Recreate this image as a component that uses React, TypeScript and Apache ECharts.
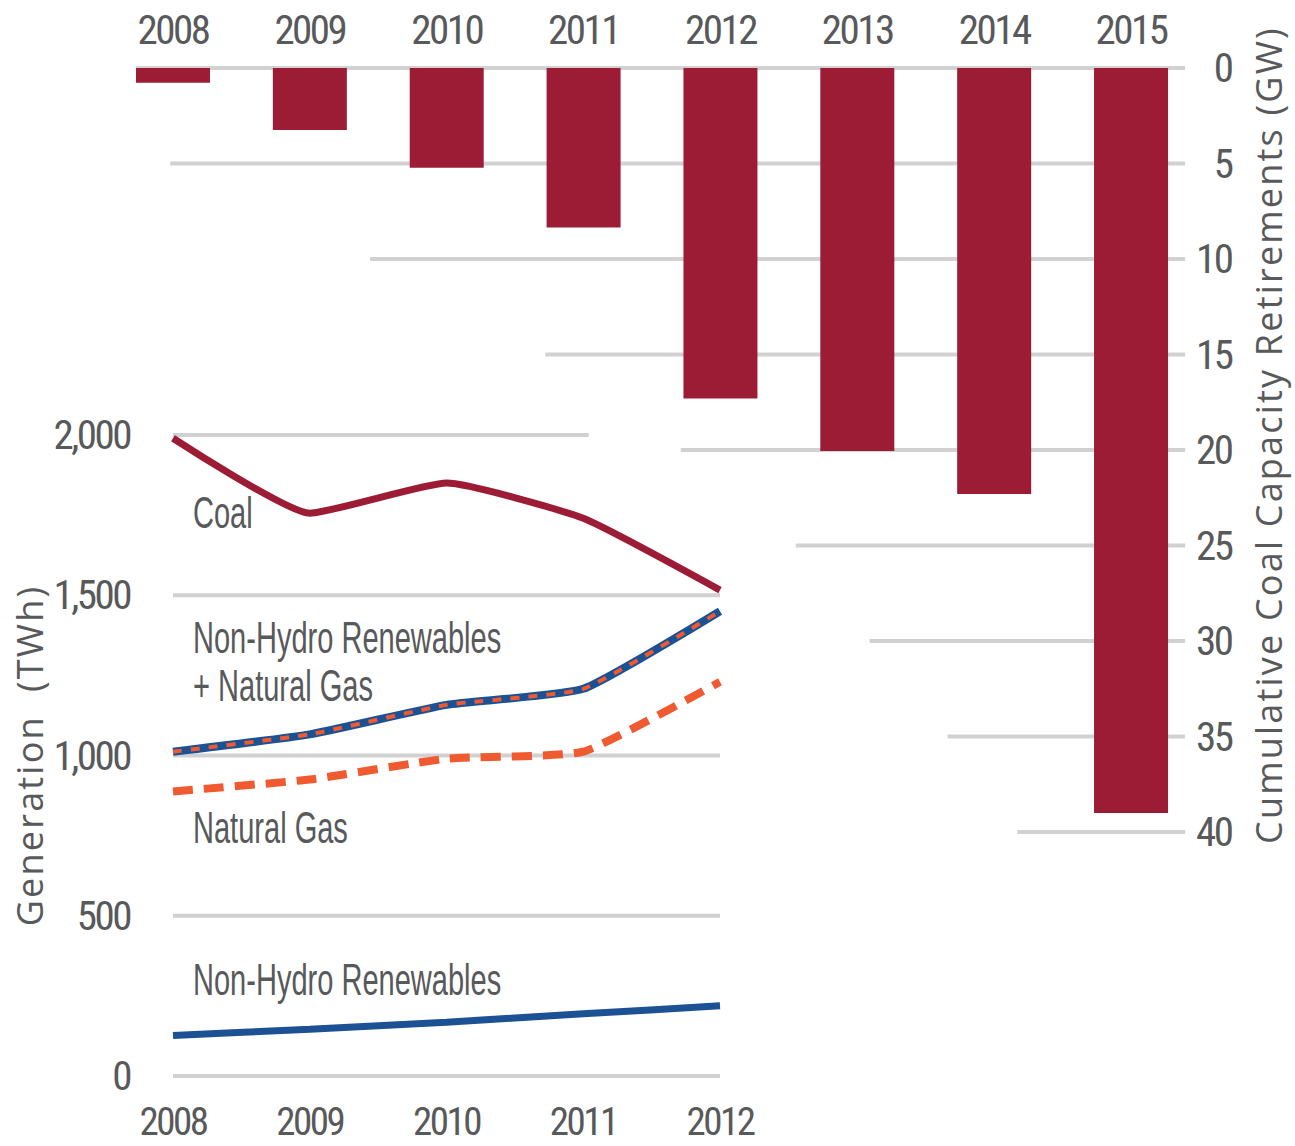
import React, { useEffect, useRef } from "react";
import * as echarts from "echarts";

// ---------- data ----------
const retirementYears = ["2008", "2009", "2010", "2011", "2012", "2013", "2014", "2015"];
const cumulativeRetirementsGW = [0.77, 3.25, 5.22, 8.35, 17.3, 20.05, 22.3, 39.0];
const retirementTicks = [0, 5, 10, 15, 20, 25, 30, 35, 40];

const generationYears = ["2008", "2009", "2010", "2011", "2012"];
const coalTWh = [1990, 1756, 1850, 1740, 1516];
const renewablesPlusGasTWh = [1012, 1066, 1158, 1208, 1450];
const naturalGasTWh = [888, 925, 990, 1012, 1230];
const nonHydroRenewablesTWh = [126, 146, 168, 194, 219];
const generationTicks = [0, 500, 1000, 1500, 2000];

// ---------- styling (gridline extents in category units) ----------
const topGridStart = [-0.27, -0.02, 1.44, 2.72, 3.71, 4.55, 5.09, 5.66, 6.17];
const topGridEnd = 7.395;
const bottomGridEnd = [4, 4, 4, 4, 3.04];

const RED = "#9d1c35";
const BLUE = "#1c5194";
const ORANGE = "#f05a30";
const GRID = "#d1d1d1";
const TEXT = "#58595b";
const TITLE_FONT = '"Open Sans", "Liberation Sans", sans-serif; letter-spacing: 2.2px';
const NARROW = '"Roboto Condensed", Roboto, sans-serif; font-stretch: 75%; letter-spacing: -2.5px';

const tickLabelStyle = {
  fontSize: 41,
  lineHeight: 32,
  fontFamily: NARROW,
  color: TEXT,
};

export default function App() {
  const ref = useRef<HTMLDivElement>(null);

  useEffect(() => {
    document.body.style.margin = "0";
    if (!ref.current) return;
    const chart = echarts.init(ref.current, undefined, { renderer: "svg" });

    const topGridSeries = retirementTicks.map((v, i) => ({
      type: "line",
      xAxisIndex: 1,
      yAxisIndex: 0,
      data: [
        [topGridStart[i], v],
        [topGridEnd, v],
      ],
      symbol: "none",
      silent: true,
      z: 1,
      lineStyle: { color: GRID, width: 4 },
    }));

    const bottomGridSeries = generationTicks.map((v, i) => ({
      type: "line",
      xAxisIndex: 3,
      yAxisIndex: 1,
      data: [
        [0, v],
        [bottomGridEnd[i], v],
      ],
      symbol: "none",
      silent: true,
      z: 1,
      lineStyle: { color: GRID, width: 4 },
    }));

    const seriesLabel = (text: string, x: number, y: number) => ({
      type: "text",
      x,
      y,
      scaleX: 0.66,
      z: 10,
      style: {
        text,
        fontSize: 44,
        fontFamily: '"Liberation Sans", Arial, sans-serif',
        fill: TEXT,
        verticalAlign: "middle",
        align: "left",
      },
    });

    const option: any = {
      animation: false,
      backgroundColor: "#ffffff",
      grid: [
        { left: 104.57, top: 68, width: 1094.9, height: 764, containLabel: false, outerBoundsMode: "none" },
        { left: 173, top: 435, width: 547, height: 641, containLabel: false, outerBoundsMode: "none" },
      ],
      xAxis: [
        {
          type: "category",
          gridIndex: 0,
          position: "top",
          data: retirementYears,
          boundaryGap: true,
          axisLine: { show: false },
          axisTick: { show: false },
          splitLine: { show: false },
          axisLabel: { ...tickLabelStyle, interval: 0, margin: 38, verticalAlign: "middle" },
        },
        {
          type: "value",
          gridIndex: 0,
          min: -0.5,
          max: 7.5,
          show: false,
          splitLine: { show: false },
        },
        {
          type: "category",
          gridIndex: 1,
          position: "bottom",
          data: generationYears,
          boundaryGap: false,
          axisLine: { show: false },
          axisTick: { show: false },
          splitLine: { show: false },
          axisLabel: { ...tickLabelStyle, fontSize: 39, interval: 0, margin: 46, verticalAlign: "middle" },
        },
        {
          type: "value",
          gridIndex: 1,
          min: 0,
          max: 4,
          show: false,
          splitLine: { show: false },
        },
      ],
      yAxis: [
        {
          type: "value",
          gridIndex: 0,
          position: "right",
          inverse: true,
          min: 0,
          max: 40,
          interval: 5,
          axisLine: { show: false },
          axisTick: { show: false },
          splitLine: { show: false },
          axisLabel: { ...tickLabelStyle, align: "right", verticalAlign: "middle", margin: 32 },
          name: "Cumulative Coal Capacity Retirements (GW)",
          nameLocation: "middle",
          nameRotate: 90,
          nameGap: 51,
          nameMoveOverlap: false,
          nameTextStyle: {
            fontSize: 36,
            lineHeight: 36,
            fontFamily: TITLE_FONT,
            color: TEXT,
            padding: [0, 0, 0, 30],
          },
        },
        {
          type: "value",
          gridIndex: 1,
          position: "left",
          min: 0,
          max: 2000,
          interval: 500,
          axisLine: { show: false },
          axisTick: { show: false },
          splitLine: { show: false },
          axisLabel: {
            ...tickLabelStyle,
            align: "right",
            verticalAlign: "middle",
            margin: 43,
            formatter: (v: number) => v.toLocaleString("en-US"),
          },
          name: "Generation  (TWh)",
          nameLocation: "middle",
          nameRotate: 90,
          nameGap: 126,
          nameMoveOverlap: false,
          nameTextStyle: {
            fontSize: 36,
            lineHeight: 36,
            fontFamily: TITLE_FONT,
            color: TEXT,
          },
        },
      ],
      series: [
        ...topGridSeries,
        ...bottomGridSeries,
        {
          name: "Cumulative Coal Capacity Retirements",
          type: "bar",
          xAxisIndex: 0,
          yAxisIndex: 0,
          data: cumulativeRetirementsGW,
          barWidth: 74,
          itemStyle: { color: RED },
          z: 2,
        },
        {
          name: "Coal",
          type: "line",
          xAxisIndex: 2,
          yAxisIndex: 1,
          data: coalTWh,
          symbol: "none",
          smooth: 0.15,
          z: 3,
          lineStyle: { color: RED, width: 7 },
        },
        {
          name: "Natural Gas",
          type: "line",
          xAxisIndex: 2,
          yAxisIndex: 1,
          data: naturalGasTWh,
          symbol: "none",
          smooth: 0.15,
          z: 3,
          lineStyle: { color: ORANGE, width: 8, type: [20, 11] },
        },
        {
          name: "Non-Hydro Renewables + Natural Gas",
          type: "line",
          xAxisIndex: 2,
          yAxisIndex: 1,
          data: renewablesPlusGasTWh,
          symbol: "none",
          smooth: 0.15,
          z: 3,
          lineStyle: { color: BLUE, width: 8 },
        },
        {
          name: "Non-Hydro Renewables + Natural Gas (overlay)",
          type: "line",
          xAxisIndex: 2,
          yAxisIndex: 1,
          data: renewablesPlusGasTWh,
          symbol: "none",
          smooth: 0.15,
          z: 4,
          lineStyle: { color: ORANGE, width: 4, type: [9, 9] },
        },
        {
          name: "Non-Hydro Renewables",
          type: "line",
          xAxisIndex: 2,
          yAxisIndex: 1,
          data: nonHydroRenewablesTWh,
          symbol: "none",
          smooth: 0.15,
          z: 3,
          lineStyle: { color: BLUE, width: 7 },
        },
      ],
      graphic: [
        seriesLabel("Coal", 193, 513),
        seriesLabel("Non-Hydro Renewables", 193, 638),
        seriesLabel("+ Natural Gas", 193, 686),
        seriesLabel("Natural Gas", 193, 828),
        seriesLabel("Non-Hydro Renewables", 193, 980),
      ],
    };

    chart.setOption(option);
    return () => chart.dispose();
  }, []);

  return <div ref={ref} style={{ width: 1295, height: 1146 }} />;
}
